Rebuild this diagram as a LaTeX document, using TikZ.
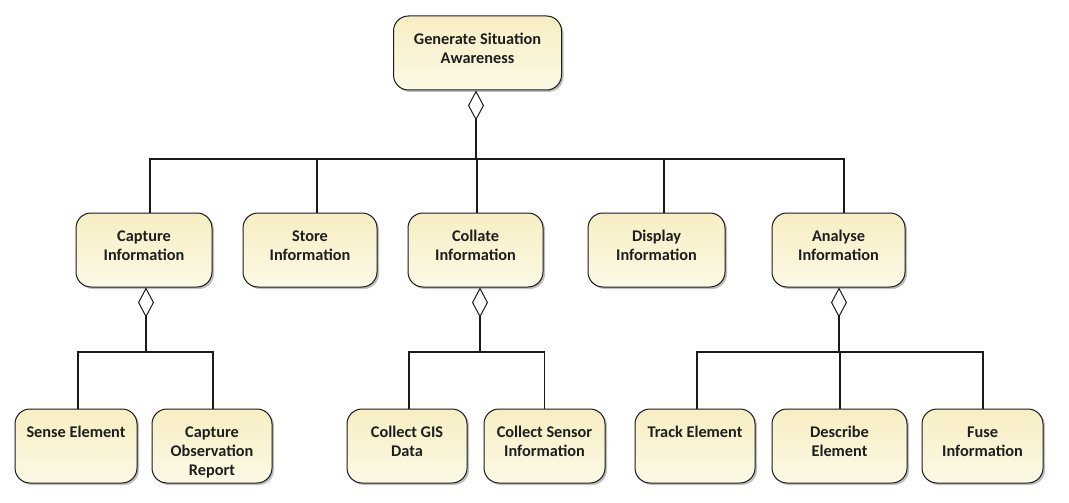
\documentclass[tikz,border=0pt]{standalone}
\usepackage{fontspec}
\setmainfont{Carlito}
\usetikzlibrary{arrows.meta,shadows}
\definecolor{boxtop}{HTML}{F7EEC2}
\definecolor{boxbot}{HTML}{FCF9E6}
\definecolor{txtc}{HTML}{1E1E1E}
\definecolor{linec}{HTML}{1A1A1A}
\tikzset{
  actbox/.style={draw=linec, line width=1pt, rounded corners=15pt, minimum height=74pt,
    inner sep=0pt, top color=boxtop, bottom color=boxbot,
    drop shadow={shadow xshift=2pt, shadow yshift=-2pt, opacity=0.25, fill=black}},
  acttext/.style={anchor=base, font=\bfseries\fontsize{16.3}{19}\selectfont,
    text=txtc, inner sep=0pt},
  wire/.style={draw=linec, line width=1.1pt},
  agg/.style={wire, -{Diamond[open, length=30pt, width=16pt, line width=1pt]}},
}
\newcommand\actnode[5]{%
  \node[actbox, minimum width=#4] (#1) at (#2,#3) {};
  \node[acttext] (#1-t) at ([yshift=-29pt]#1.north)
    {\begin{tabular}[t]{@{}c@{}}#5\end{tabular}};
}
\begin{document}
\begin{tikzpicture}[x=1pt,y=-1pt]
\useasboundingbox (0,0) rectangle (1069,503);
% top
\actnode{top}{477.5}{53}{168pt}{Generate Situation\\Awareness}
% middle row
\actnode{cap}{144}{250}{136pt}{Capture\\Information}
\actnode{sto}{310}{250}{134pt}{Store\\Information}
\actnode{col}{475.5}{250}{135pt}{Collate\\Information}
\actnode{dis}{656.5}{250}{137pt}{Display\\Information}
\actnode{ana}{838.5}{250}{133pt}{Analyse\\Information}
% bottom row
\actnode{sen}{76}{446}{122pt}{Sense Element}
\actnode{obs}{212}{446}{120pt}{Capture\\Observation\\Report}
\actnode{gis}{407}{446}{120pt}{Collect GIS\\Data}
\actnode{csi}{544.5}{446}{121pt}{Collect Sensor\\Information}
\actnode{trk}{695}{446}{120pt}{Track Element}
\actnode{des}{839.5}{446}{135pt}{Describe\\Element}
\actnode{fus}{982.5}{446}{121pt}{Fuse\\Information}
% buses
\coordinate (b0) at (476,159);
\coordinate (b1) at (146,352);
\coordinate (b2) at (480,352);
\coordinate (b3) at (839,352);
% top level
\draw[agg] (b0) -- (b0 |- top.south);
\draw[wire] ([xshift=6pt]cap.north) |- (b0);
\draw[wire] ([xshift=7pt]sto.north) |- (b0);
\draw[wire] ([xshift=1.5pt]col.north) |- (b0);
\draw[wire] ([xshift=7.5pt]dis.north) |- (b0);
\draw[wire] ([xshift=5.5pt]ana.north) |- (b0);
% capture group
\draw[agg] (b1) -- (b1 |- cap.south);
\draw[wire] ([xshift=2pt]sen.north) |- (b1);
\draw[wire] ([xshift=1pt]obs.north) |- (b1);
% collate group
\draw[agg] (b2) -- (b2 |- col.south);
\draw[wire] ([xshift=2pt]gis.north) |- (b2);
\draw[wire] ([xshift=0pt]csi.north) |- (b2);
% analyse group
\draw[agg] (b3) -- (b3 |- ana.south);
\draw[wire] ([xshift=2pt]trk.north) |- (b3);
\draw[wire] ([xshift=0.5pt]des.north) |- (b3);
\draw[wire] ([xshift=0.5pt]fus.north) |- (b3);
\end{tikzpicture}
\end{document}
